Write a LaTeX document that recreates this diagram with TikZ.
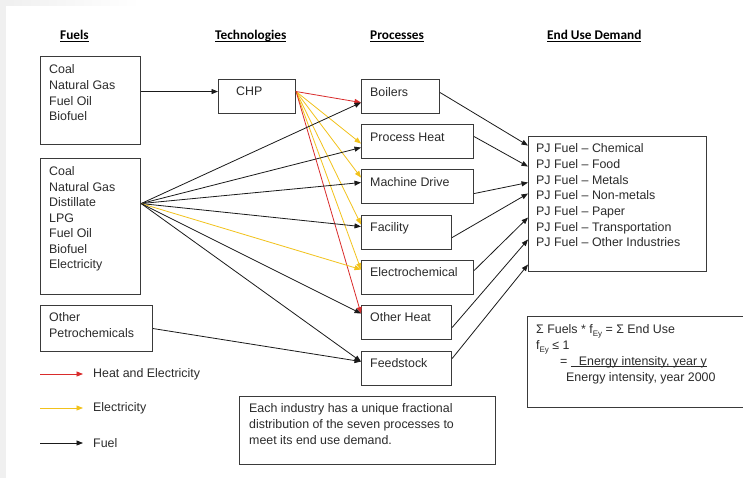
\documentclass[tikz,border=0pt]{standalone}
\usepackage{fontspec}
\setmainfont{Liberation Sans}
\newfontfamily\hdrfont{Carlito}
\usetikzlibrary{arrows.meta}
\definecolor{txt}{HTML}{2B2B2B}
\definecolor{boxc}{HTML}{3A3A3A}
\definecolor{heatc}{HTML}{D92B2B}
\definecolor{elecc}{HTML}{F2C21B}
\definecolor{fuelc}{HTML}{1A1A1A}
\newcommand{\myul}[2][-2pt]{\setbox0\hbox{#2}\rlap{\rule[#1]{\wd0}{0.7pt}}\box0}
\newcommand{\fsub}{\raisebox{-2.5pt}{\fontsize{8}{8}\selectfont Ey}}
\begin{document}
\begin{tikzpicture}[x=1pt,y=-1pt,
  every node/.style={text=txt},
  bx/.style={draw=boxc, line width=1.1pt, fill=white, inner sep=0, anchor=north west},
  tx/.style={anchor=north west, inner sep=0, align=left, font=\fontsize{12.4}{15.7}\selectfont},
  hd/.style={anchor=base west, inner sep=0, text=black, font=\hdrfont\bfseries\fontsize{13.3}{16}\selectfont},
  con/.style={line width=0.8pt, -{Triangle[length=6.5pt,width=5pt]}},
  fuel/.style={con, draw=fuelc},
  elec/.style={con, draw=elecc},
  heat/.style={con, draw=heatc}
]
\clip (0,0) rectangle (743,478);
\fill[white] (0,0) rectangle (743,478);
\fill[gray!12] (0,0) rectangle (6,478);
\shade[left color=gray!12, right color=white] (6,0) rectangle (140,6);

% headers
\node[hd] (hF) at (60,39.5) {\myul{Fuels}};
\node[hd] (hT) at (215,39.5) {\myul{Technologies}};
\node[hd] (hP) at (370,39.5) {\myul{Processes}};
\node[hd] (hE) at (547,39.5) {\myul{End Use Demand}};

% fuel boxes
\node[bx, minimum width=100, minimum height=88] (f1) at (40,56) {};
\node[tx] (f1t) at (49,64.5) {Coal\\Natural Gas\\Fuel Oil\\Biofuel};
\node[bx, minimum width=100, minimum height=136] (f2) at (40,158) {};
\node[tx, font=\fontsize{12.4}{15.5}\selectfont] (f2t) at (49,166.5) {Coal\\Natural Gas\\Distillate\\LPG\\Fuel Oil\\Biofuel\\Electricity};
\node[bx, minimum width=112, minimum height=46] (f3) at (40,305) {};
\node[tx, font=\fontsize{12.4}{16}\selectfont] (f3t) at (49,312.5) {Other\\Petrochemicals};

% technology
\node[bx, minimum width=77, minimum height=34] (chp) at (218,79) {};
\node[tx] (chpt) at (236,86.5) {CHP};

% processes
\node[bx, minimum width=78, minimum height=34] (boil) at (361,79) {};
\node[tx] at (370,87.5) {Boilers};
\node[bx, minimum width=112, minimum height=34] (ph) at (361,124) {};
\node[tx] at (370,132.5) {Process Heat};
\node[bx, minimum width=112, minimum height=34] (md) at (361,169) {};
\node[tx] at (370,177.5) {Machine Drive};
\node[bx, minimum width=90, minimum height=34] (fac) at (361,215) {};
\node[tx] at (370,222.5) {Facility};
\node[bx, minimum width=112, minimum height=34] (ec) at (361,260) {};
\node[tx] at (370,267.5) {Electrochemical};
\node[bx, minimum width=90, minimum height=34] (oh) at (361,305) {};
\node[tx] at (370,312.5) {Other Heat};
\node[bx, minimum width=90, minimum height=34] (fs) at (361,351) {};
\node[tx] at (370,358.5) {Feedstock};

% end use
\node[bx, minimum width=178, minimum height=135] (eu) at (528,136) {};
\node[tx] (eut) at (536,143.5) {PJ Fuel -- Chemical\\PJ Fuel -- Food\\PJ Fuel -- Metals\\PJ Fuel -- Non-metals\\PJ Fuel -- Paper\\PJ Fuel -- Transportation\\PJ Fuel -- Other Industries};

% formula box
\node[bx, minimum width=240, minimum height=91] (fm) at (527,316) {};
\node[tx, font=\fontsize{12.4}{16}\selectfont] (fmt) at (536,324.5) {Σ Fuels * f\fsub{} = Σ End Use\\f\fsub{} ≤ 1\\\hspace*{24pt}= \myul[-1.5pt]{\hspace*{8pt}Energy intensity, year y}\\\hspace*{30pt}Energy intensity, year 2000};

% note box
\node[bx, minimum width=256, minimum height=68] (note) at (239,396) {};
\node[tx, font=\fontsize{12.4}{16}\selectfont] (notet) at (249,403.5) {Each industry has a unique fractional\\distribution of the seven processes to\\meet its end use demand.};

% legend
\coordinate (lr0) at (40,374); \coordinate (lr1) at (83,374);
\coordinate (ly0) at (40,408); \coordinate (ly1) at (83,408);
\coordinate (lb0) at (40,443); \coordinate (lb1) at (83,443);
\draw[heat] (lr0) -- (lr1);
\draw[elec] (ly0) -- (ly1);
\draw[fuel] (lb0) -- (lb1);
\node[tx, anchor=west] (lhe) at (93,374) {Heat and Electricity};
\node[tx, anchor=west] (lel) at (93,408) {Electricity};
\node[tx, anchor=west] (lfu) at (93,443) {Fuel};

% fuel 1 -> CHP
\draw[fuel] ([yshift=9]f1.east) -- ([yshift=5]chp.west);

% CHP -> processes
\draw[elec] ([yshift=5]chp.east) -- ([yshift=-2]ph.west);
\draw[elec] ([yshift=5]chp.east) -- ([yshift=9]md.west);
\draw[elec] ([yshift=5]chp.east) -- ([yshift=8]fac.west);
\draw[elec] ([yshift=5]chp.east) -- ([yshift=8]ec.west);
\draw[heat] ([yshift=5]chp.east) -- ([yshift=-6]boil.west);
\draw[heat] ([yshift=5]chp.east) -- ([yshift=9]oh.west);

% fuel 2 -> processes
\draw[fuel] ([yshift=23]f2.east) -- ([yshift=-6]boil.west);
\draw[fuel] ([yshift=23]f2.east) -- ([yshift=-6]ph.west);
\draw[fuel] ([yshift=23]f2.east) -- ([yshift=4]md.west);
\draw[fuel] ([yshift=23]f2.east) -- ([yshift=6]fac.west);
\draw[elec] ([yshift=23]f2.east) -- ([yshift=8]ec.west);
\draw[fuel] ([yshift=23]f2.east) -- ([yshift=9]oh.west);
\draw[fuel] ([yshift=23]f2.east) -- ([yshift=7]fs.west);

% fuel 3 -> feedstock
\draw[fuel] (f3.east) -- ([yshift=7]fs.west);

% processes -> end use
\draw[fuel] ([yshift=4]boil.east) -- ([yshift=58.5]eu.west);
\draw[fuel] ([yshift=5]ph.east) -- ([yshift=37.5]eu.west);
\draw[fuel] ([yshift=-7]md.east) -- ([yshift=21.5]eu.west);
\draw[fuel] ([yshift=-5]fac.east) -- ([yshift=10.5]eu.west);
\draw[fuel] ([yshift=7]ec.east) -- ([yshift=-13.5]eu.west);
\draw[fuel] ([yshift=-5]oh.east) -- ([yshift=-35.5]eu.west);
\draw[fuel] ([yshift=10]fs.east) -- ([yshift=-60.5]eu.west);
\end{tikzpicture}
\end{document}
